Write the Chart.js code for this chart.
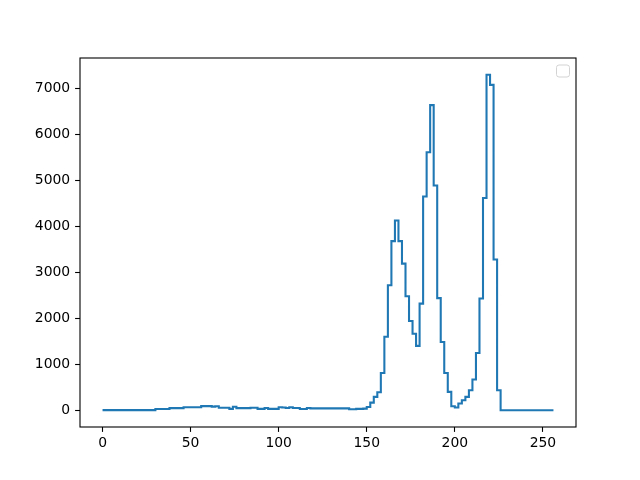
<!DOCTYPE html>
<html><head><meta charset="utf-8">
<script src="https://cdn.jsdelivr.net/npm/chart.js@4"></script>
<style>html,body{margin:0;padding:0;background:#fff}#c{display:block}</style>
</head><body>
<canvas id="c" width="640" height="480"></canvas>
<script>
const binStarts = [0,2,4,6,8,10,12,14,16,18,20,22,24,26,28,30,32,34,36,38,40,42,44,46,48,50,52,54,56,58,60,62,64,66,68,70,72,74,76,78,80,82,84,86,88,90,92,94,96,98,100,102,104,106,108,110,112,114,116,118,120,122,124,126,128,130,132,134,136,138,140,142,144,146,148,150,152,154,156,158,160,162,164,166,168,170,172,174,176,178,180,182,184,186,188,190,192,194,196,198,200,202,204,206,208,210,212,214,216,218,220,222,224,226,228,230,232,234,236,238,240,242,244,246,248,250,252,254];
const binEnd = 256;
const counts = [3,3,3,3,3,3,3,3,3,3,3,3,3,3,3,
  25,25,25,25,
  45,45,45,45,
  65,65,65,65,65,
  90,90,90,
  78,88,
  55,55,55,
  30,75,
  45,45,45,45,
  55,55,
  30,30,
  50,
  30,30,30,
  65,60,
  50,65,
  50,50,
  25,25,
  50,
  40,40,40,40,40,40,40,40,40,40,40,
  20,20,
  30,30,
  35,70,165,290,390,810,1600,2720,3680,4130,3680,3190,2480,1940,1665,1400,
  2320,4650,5615,6640,4890,2440,1485,810,400,87,58,145,217,290,435,667,1245,
  2430,4620,7300,7080,3280,435,
  0,0,0,0,0,0,0,0,0,0,0,0,0,0,0];
const xTicks = [0,50,100,150,200,250];
const yTicks = [0,1000,2000,3000,4000,5000,6000,7000];

const points = binStarts.map((x, i) => ({x: x, y: counts[i]}));
points.push({x: binEnd, y: counts[counts.length - 1]});

const framePlugin = {
  id: 'frame',
  afterDraw(chart) {
    const {ctx, chartArea: a} = chart;
    ctx.save();
    ctx.strokeStyle = '#000';
    ctx.lineWidth = 1.1;
    ctx.strokeRect(a.left, a.top, a.right - a.left, a.bottom - a.top);
    const w = 13, h = 12, x = a.right - 6.5 - w, y = a.top + 7;
    ctx.beginPath();
    ctx.roundRect(x, y, w, h, 2.5);
    ctx.fillStyle = 'rgba(255,255,255,0.8)';
    ctx.fill();
    ctx.strokeStyle = '#d3d3d3';
    ctx.lineWidth = 1;
    ctx.stroke();
    ctx.restore();
  }
};

const font = {family: 'DejaVu Sans', size: 13.9};
new Chart(document.getElementById('c'), {
  type: 'line',
  data: {datasets: [{
    data: points,
    borderColor: '#1f77b4',
    borderWidth: 2.08,
    stepped: 'before',
    pointRadius: 0,
    fill: false,
    tension: 0
  }]},
  options: {
    responsive: false,
    devicePixelRatio: 1,
    animation: false,
    events: [],
    layout: {padding: {left: 0, right: 64, top: 58, bottom: 0}},
    plugins: {legend: {display: false}, tooltip: {enabled: false}},
    scales: {
      x: {
        type: 'linear', min: -12.8, max: 268.8,
        afterBuildTicks: s => { s.ticks = xTicks.map(v => ({value: v})); },
        afterFit: s => { s.height = 53; },
        ticks: {color: '#000', font: font, padding: 3.5, maxRotation: 0, autoSkip: false, callback: v => String(v)},
        grid: {drawOnChartArea: false, drawTicks: true, tickLength: 4.9, tickColor: '#000', tickWidth: 1.1},
        border: {display: false}
      },
      y: {
        type: 'linear', min: -365, max: 7665,
        afterBuildTicks: s => { s.ticks = yTicks.map(v => ({value: v})); },
        afterFit: s => { s.width = 80; },
        ticks: {color: '#000', font: font, padding: 4.9, autoSkip: false, callback: v => String(v)},
        grid: {drawOnChartArea: false, drawTicks: true, tickLength: 4.9, tickColor: '#000', tickWidth: 1.1},
        border: {display: false}
      }
    }
  },
  plugins: [framePlugin]
});
</script>
</body></html>
